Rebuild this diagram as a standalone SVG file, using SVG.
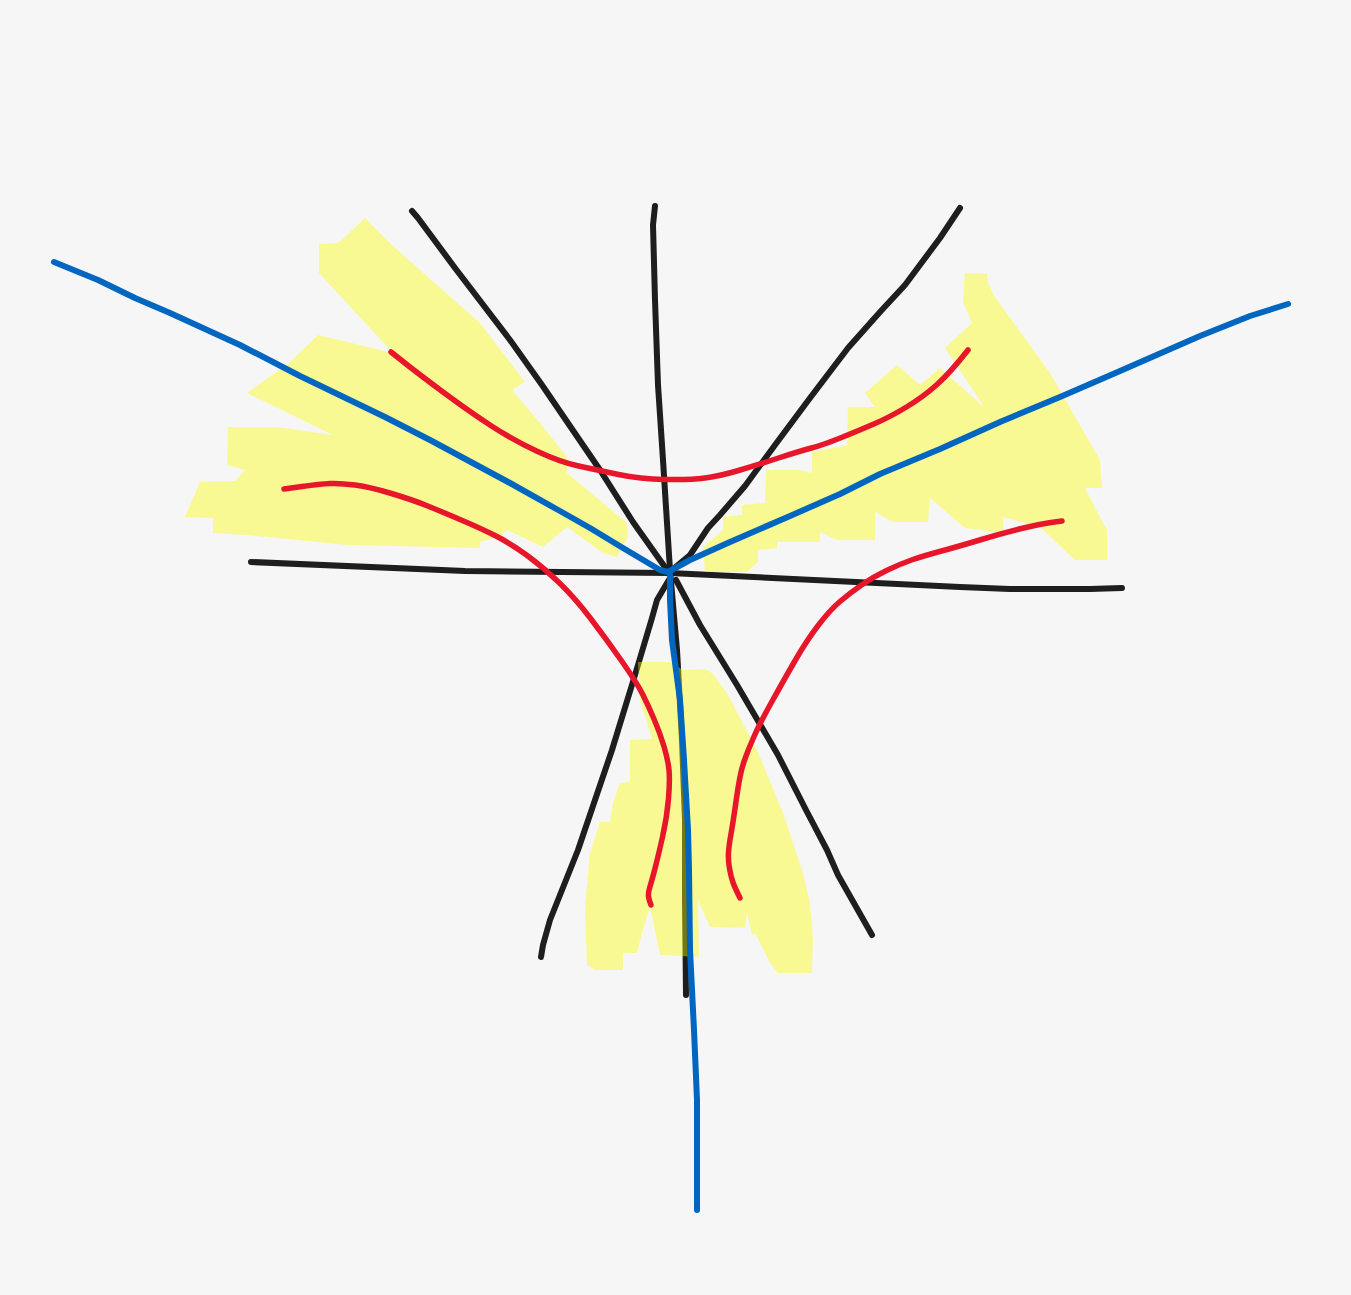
<svg xmlns="http://www.w3.org/2000/svg" width="1351" height="1295" viewBox="0 0 1351 1295">
<style>
.k{fill:none;stroke:#1e1e1e;stroke-width:6;stroke-linecap:round;stroke-linejoin:round}
.b{fill:none;stroke:#0066c0;stroke-width:6;stroke-linecap:round;stroke-linejoin:round}
.r{fill:none;stroke:#e8162a;stroke-width:5.5;stroke-linecap:round;stroke-linejoin:round}
.y{fill:#ffff00;fill-opacity:0.4;stroke:none}
</style>
<rect width="1351" height="1295" fill="#f6f6f6"/>
<g id="black-lines">
<polyline class="k" points="251,562 465,571 670,573 960,587 1010,589 1090,589 1122,588"/>
<polyline class="k" points="655,206 653,225 655,300 658,385 663,460 670,570 677,650 682,740 685,820 685,900 686,995"/>
<polyline class="k" points="412,211 418,218 455,268 510,340 542,385 600,470 633,522 667,570"/>
<polyline class="k" points="960,208 940,238 905,285 880,312 848,348 810,398 775,445 745,486 720,515 708,528 700,540 690,555 672,570"/>
<polyline class="k" points="670,578 657,600 652,618 635,675 612,750 578,850 550,920 543,945 541,957"/>
<polyline class="k" points="676,580 700,625 737,685 778,755 806,810 827,850 838,875 872,935"/>
</g>
<g id="highlights">
<polygon class="y" points="365,218 393,246 420,270 480,323 525,382 512,390 540,423 567,457 567,473 627,523 628,537 617,557 603,553 567,527 543,547 507,530 502,535 480,542 480,548 347,545 247,535 213,533 213,518 185,517 200,482 235,481 245,470 227,465 228,427 277,427 333,435 247,393 290,362 318,335 393,353 319,273 319,244 338,243 345,237"/>
<polygon class="y" points="965,273 987,274 988,283 995,297 1050,373 1100,460 1102,488 1085,488 1103,523 1107,530 1107,560 1075,560 1040,527 1003,517 1003,533 965,528 930,498 928,522 893,522 875,512 875,540 837,540 820,532 820,542 777,542 777,548 758,550 758,562 747,572 705,572 703,547 723,530 723,517 742,515 742,505 765,503 766,470 800,470 812,473 812,452 847,445 848,407 875,407 865,393 897,365 920,385 940,368 985,408 945,348 972,323 963,302"/>
<polygon class="y" points="638,662 670,662 683,670 705,669 712,673 727,693 757,750 783,813 803,873 810,903 813,940 812,973 778,973 770,963 755,933 752,935 747,912 745,928 710,927 698,900 699,957 660,955 650,907 642,933 637,953 623,953 623,970 595,970 587,965 585,907 590,853 600,822 610,822 613,803 620,783 630,782 630,740 652,739 640,700"/>
</g>
<g id="blue-lines">
<polyline class="b" points="54,262 98,280 135,298 170,313 240,345 300,376 385,417 430,440 510,483 560,511 590,528 623,548 660,570 668,572"/>
<polyline class="b" points="668,572 690,560 730,542 790,516 840,494 880,474 940,449 1000,422 1060,397 1120,371 1200,336 1250,316 1288,304"/>
<polyline class="b" points="670,575 670,600 672,640 680,700 684,760 688,830 689,870 690,950 694,1030 697,1100 697,1210"/>
</g>
<g id="red-lines">
<path class="r" d="M391,352 L405.5,363.5 Q420,375 445,393.5 Q470,412 491.5,426 Q513,440 536.5,451 Q560,462 578.5,466 Q597,470 618.5,474.5 Q640,479 665,479.5 Q690,480 705,478 Q720,476 738.5,470.5 Q757,465 778.5,458 Q800,451 811.5,448 Q823,445 841.5,437.5 Q860,430 875,423.5 Q890,417 906.5,407 Q923,397 936.5,385 Q950,373 968,350"/>
<path class="r" d="M284,489 L302,486.5 Q320,484 330,483.5 Q340,483 355,485 Q370,487 391.5,493.5 Q413,500 426.5,505.5 Q440,511 460,519.5 Q480,528 495,535.5 Q510,543 526.5,555 Q543,567 559,582.5 Q575,598 591,619 Q607,640 622,661.5 Q637,683 642.5,694 Q648,705 654,719 Q660,733 664,746.5 Q668,760 669,770 Q670,780 668.5,798.5 Q667,817 662.5,837 Q658,857 655,868.5 Q652,880 650,886.5 Q648,893 648.5,896.5 Q649,900 651,905"/>
<path class="r" d="M1062,521 L1051,522.5 Q1040,524 1021.5,528.5 Q1003,533 981.5,539.5 Q960,546 941.5,551 Q923,556 911.5,560 Q900,564 886.5,570.5 Q873,577 861.5,585 Q850,593 840,601.5 Q830,610 818.5,625 Q807,640 796,659 Q785,678 772.5,700.5 Q760,723 754,736.5 Q748,750 744,761.5 Q740,773 736.5,798 Q733,823 731,834 Q729,845 728.5,852.5 Q728,860 729.5,868.5 Q731,877 733,882.5 Q735,888 740,898"/>
</g>
</svg>
